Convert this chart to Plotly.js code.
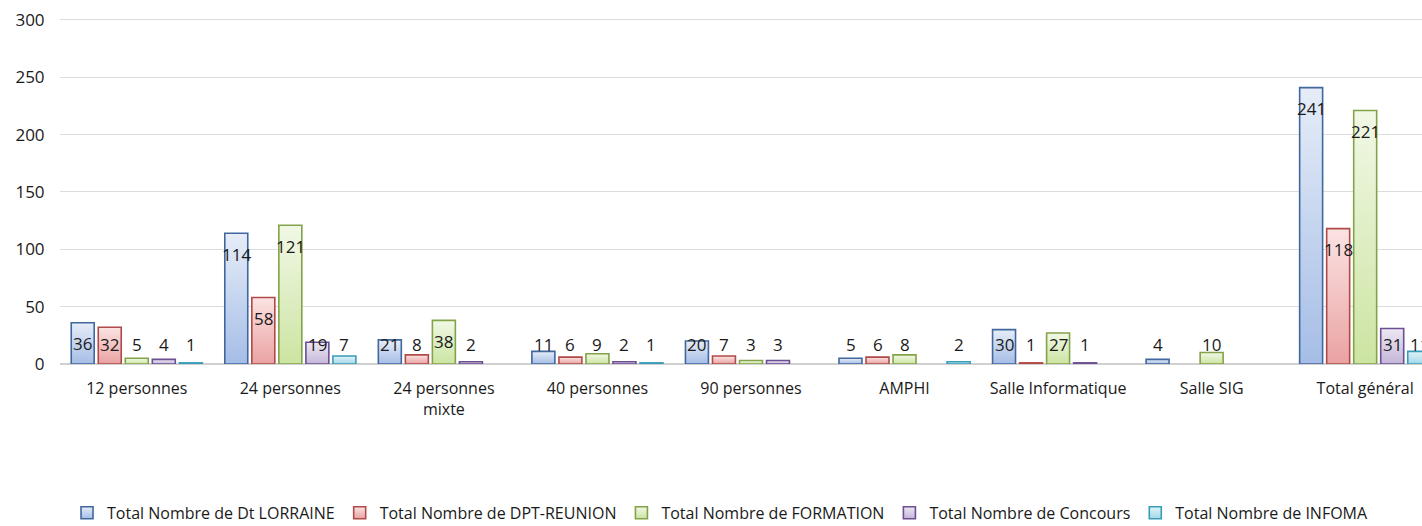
<!DOCTYPE html>
<html>
<head>
<meta charset="utf-8">
<script src="https://cdn.plot.ly/plotly-3.0.1.min.js"></script>
<style>
html,body{margin:0;padding:0;background:#fff;}
#chart{width:1422px;height:526px;}
</style>
</head>
<body>
<div id="chart"></div>
<script>
const categories = ["12 personnes","24 personnes","24 personnes<br>mixte","40 personnes","90 personnes","AMPHI","Salle Informatique","Salle SIG","Total général"];
const seriesNames = ["Total Nombre de Dt LORRAINE","Total Nombre de DPT-REUNION","Total Nombre de FORMATION","Total Nombre de Concours","Total Nombre de INFOMA"];
const lorraine  = [36, 114, 21, 11, 20, 5, 30, 4, 241];
const reunion   = [32, 58, 8, 6, 7, 6, 1, null, 118];
const formation = [5, 121, 38, 9, 3, 8, 27, 10, 221];
const concours  = [4, 19, 2, 2, 3, null, 1, null, 31];
const infoma    = [1, 7, null, 1, null, 2, null, null, 11];
const yTicks = [0, 50, 100, 150, 200, 250, 300];

const seriesValues = [lorraine, reunion, formation, concours, infoma];
const fills   = ["#c3d3ef", "#f3c3c3", "#e0eec9", "#d9d0e6", "#c4e6f1"];
const lines   = ["#41679f", "#b04a48", "#82a348", "#6c4e92", "#3a9cb8"];
const gradTop = ["#e6edf8", "#fbe3e3", "#f1f8e6", "#ede8f3", "#e2f3f8"];
const gradBot = ["#a5bde6", "#eaa2a2", "#cce4a2", "#c4b6d9", "#a3d8e9"];

const traces = seriesValues.map((vals, i) => ({
  type: "bar",
  name: seriesNames[i],
  x: categories,
  y: vals,
  marker: {color: fills[i], line: {color: lines[i], width: 1.6}},
  cliponaxis: true,
  hoverinfo: "skip"
}));

const font = "'Open Sans', 'Noto Sans', sans-serif";
const pitch = 27;
const annotations = [];
seriesValues.forEach((vals, i) => {
  vals.forEach((v, j) => {
    if (v === null) return;
    annotations.push({
      x: categories[j], y: Math.max(v - 18.3, 16.6),
      xref: "x", yref: "y",
      text: String(v), showarrow: false,
      xshift: (i - 2) * pitch, yanchor: "middle", xanchor: "center",
      font: {family: font, size: 17, color: "#1a1a1a"}
    });
  });
});

const layout = {
  width: 1422, height: 526,
  margin: {l: 60, r: 0, t: 18, b: 162, autoexpand: false},
  paper_bgcolor: "#fff", plot_bgcolor: "#fff",
  barmode: "group", bargap: 0.12, bargroupgap: 0.15,
  showlegend: true,
  legend: {orientation: "h", x: 0.4846, xanchor: "center", y: -0.43, yanchor: "middle",
           font: {family: font, size: 16, color: "#1a1a1a"}, itemwidth: 30, tracegroupgap: 0},
  xaxis: {range: [-0.5, 8.37], showgrid: false, showline: false, zeroline: false,
          ticks: "outside", ticklen: 10, tickcolor: "rgba(0,0,0,0)",
          tickfont: {family: font, size: 16, color: "#1a1a1a"}, fixedrange: true},
  yaxis: {range: [0, 301.7], tickvals: yTicks, ticktext: yTicks.map(String),
          showgrid: true, gridcolor: "#dcdcdc", gridwidth: 1,
          zeroline: true, zerolinecolor: "#d0d0d0", zerolinewidth: 1.5, showline: false,
          ticks: "outside", ticklen: 11, tickcolor: "rgba(0,0,0,0)",
          tickfont: {family: font, size: 17, color: "#1a1a1a"}, fixedrange: true},
  annotations: annotations
};

Plotly.newPlot("chart", traces, layout, {staticPlot: true, displayModeBar: false}).then(gd => {
  const svg = gd.querySelector("svg.main-svg");
  const ns = "http://www.w3.org/2000/svg";
  let defs = svg.querySelector("defs");
  if (!defs) { defs = document.createElementNS(ns, "defs"); svg.insertBefore(defs, svg.firstChild); }
  gradTop.forEach((c, i) => {
    const g = document.createElementNS(ns, "linearGradient");
    g.setAttribute("id", "bargrad" + i);
    g.setAttribute("x1", "0"); g.setAttribute("y1", "0");
    g.setAttribute("x2", "0"); g.setAttribute("y2", "1");
    const s1 = document.createElementNS(ns, "stop");
    s1.setAttribute("offset", "0"); s1.setAttribute("stop-color", c);
    const s2 = document.createElementNS(ns, "stop");
    s2.setAttribute("offset", "1"); s2.setAttribute("stop-color", gradBot[i]);
    g.appendChild(s1); g.appendChild(s2); defs.appendChild(g);
  });
  gd.querySelectorAll(".barlayer .trace").forEach((tr, i) => {
    tr.querySelectorAll("path").forEach(p => { p.style.fill = "url(#bargrad" + i + ")"; });
  });
  gd.querySelectorAll(".legend .traces").forEach((tr, i) => {
    tr.querySelectorAll(".legendpoints path").forEach(p => { p.style.fill = "url(#bargrad" + i + ")"; });
  });
});
</script>
</body>
</html>
